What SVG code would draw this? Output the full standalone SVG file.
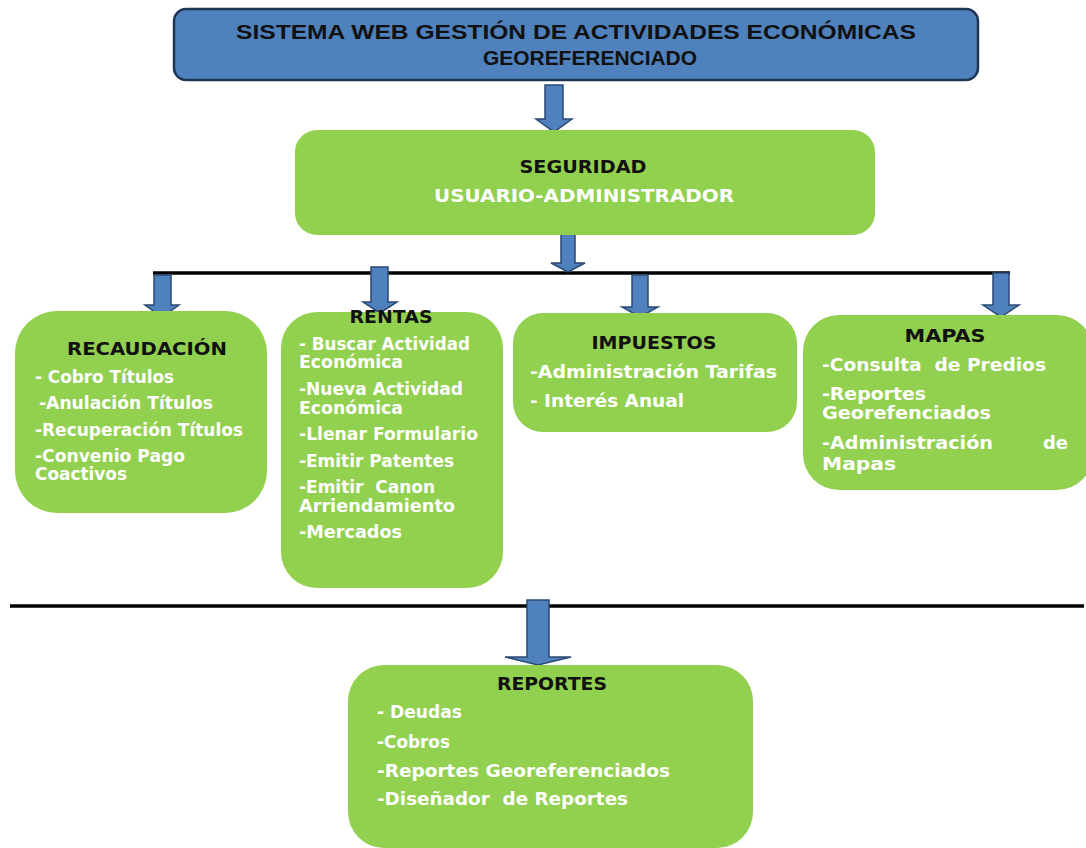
<svg xmlns="http://www.w3.org/2000/svg" width="1086" height="848" viewBox="0 0 1086 848">
<style>
.box{fill:#92D050;}
.top{fill:#4F81BD;stroke:#1F3553;stroke-width:2.5;}
.arr{fill:#4F81BD;stroke:#2A4A72;stroke-width:1.5;}
.line{stroke:#000;stroke-width:3.5;fill:none;}
text{font-family:"DejaVu Sans","Liberation Sans",sans-serif;font-weight:bold;white-space:pre;}
.t{fill:#111;font-size:18px;}
.w{fill:#fff;font-size:17px;}
.h{fill:#111;font-size:21px;font-family:"Liberation Sans",sans-serif;}
</style>
<rect width="1086" height="848" fill="#fff"/>
<g id="connectors">
<line class="line" x1="153" y1="273" x2="1010" y2="273"/>
<line class="line" x1="10" y1="606" x2="1084" y2="606"/>
<path class="arr" d="M545,85 H563 V119 H572 L554,132 L536,119 H545 Z"/>
<path class="arr" d="M561,229 H575 V263 H585 L568,272 L551,263 H561 Z"/>
<path class="arr" d="M154,275 H171 V305 H179 L162,317 L145,305 H154 Z"/>
<path class="arr" d="M371,267 H388 V302 H397 L380,313 L363,302 H371 Z"/>
<path class="arr" d="M632,275 H648 V307 H658 L640,317 L622,307 H632 Z"/>
<path class="arr" d="M993,273 H1009 V305 H1019 L1001,317 L983,305 H993 Z"/>
<path class="arr" d="M527,600 H549 V657 H571 L538,665 L505,657 H527 Z"/>
</g>
<g id="sistema">
<rect class="top" x="174" y="9" width="804" height="71" rx="12"/>
<text class="h" x="576" y="39" text-anchor="middle" textLength="680" lengthAdjust="spacingAndGlyphs">SISTEMA WEB GESTIÓN DE ACTIVIDADES ECONÓMICAS</text>
<text class="h" x="590" y="65" text-anchor="middle" textLength="214" lengthAdjust="spacingAndGlyphs">GEOREFERENCIADO</text>
</g>
<g id="seguridad">
<rect class="box" x="295" y="130" width="580" height="105" rx="22"/>
<text class="t" x="583" y="173" text-anchor="middle" textLength="127" lengthAdjust="spacingAndGlyphs">SEGURIDAD</text>
<text class="w" x="584" y="202" text-anchor="middle" textLength="300" lengthAdjust="spacingAndGlyphs" style="font-size:18px">USUARIO-ADMINISTRADOR</text>
</g>
<g id="recaudacion">
<rect class="box" x="15" y="311" width="252" height="202" rx="42"/>
<text class="t" x="147" y="355" text-anchor="middle" textLength="160" lengthAdjust="spacingAndGlyphs">RECAUDACIÓN</text>
<text class="w" x="35" y="383" textLength="139" lengthAdjust="spacingAndGlyphs">- Cobro Títulos</text>
<text class="w" x="39" y="409" textLength="174" lengthAdjust="spacingAndGlyphs">-Anulación Títulos</text>
<text class="w" x="35" y="436" textLength="208" lengthAdjust="spacingAndGlyphs">-Recuperación Títulos</text>
<text class="w" x="35" y="462" textLength="150" lengthAdjust="spacingAndGlyphs">-Convenio Pago</text>
<text class="w" x="35" y="480" textLength="92" lengthAdjust="spacingAndGlyphs">Coactivos</text>
</g>
<g id="rentas">
<rect class="box" x="281" y="312" width="222" height="276" rx="36"/>
<text class="t" x="391" y="323" text-anchor="middle" textLength="83" lengthAdjust="spacingAndGlyphs">RENTAS</text>
<text class="w" x="299" y="350" textLength="171" lengthAdjust="spacingAndGlyphs">- Buscar Actividad</text>
<text class="w" x="299" y="368" textLength="104" lengthAdjust="spacingAndGlyphs">Económica</text>
<text class="w" x="299" y="395" textLength="164" lengthAdjust="spacingAndGlyphs">-Nueva Actividad</text>
<text class="w" x="299" y="414" textLength="104" lengthAdjust="spacingAndGlyphs">Económica</text>
<text class="w" x="299" y="440" textLength="179" lengthAdjust="spacingAndGlyphs">-Llenar Formulario</text>
<text class="w" x="299" y="467" textLength="155" lengthAdjust="spacingAndGlyphs">-Emitir Patentes</text>
<text class="w" x="299" y="493" textLength="136" lengthAdjust="spacingAndGlyphs">-Emitir  Canon</text>
<text class="w" x="299" y="512" textLength="156" lengthAdjust="spacingAndGlyphs">Arriendamiento</text>
<text class="w" x="299" y="538" textLength="103" lengthAdjust="spacingAndGlyphs">-Mercados</text>
</g>
<g id="impuestos">
<rect class="box" x="513" y="313" width="284" height="119" rx="30"/>
<text class="t" x="654" y="349" text-anchor="middle" textLength="125" lengthAdjust="spacingAndGlyphs">IMPUESTOS</text>
<text class="w" x="530" y="378" textLength="247" lengthAdjust="spacingAndGlyphs">-Administración Tarifas</text>
<text class="w" x="530" y="407" textLength="154" lengthAdjust="spacingAndGlyphs">- Interés Anual</text>
</g>
<g id="mapas">
<rect class="box" x="803" y="315" width="290" height="175" rx="36"/>
<text class="t" x="945" y="342" text-anchor="middle" textLength="81" lengthAdjust="spacingAndGlyphs">MAPAS</text>
<text class="w" x="822" y="371" textLength="224" lengthAdjust="spacingAndGlyphs">-Consulta  de Predios</text>
<text class="w" x="822" y="400" textLength="104" lengthAdjust="spacingAndGlyphs">-Reportes</text>
<text class="w" x="822" y="419" textLength="169" lengthAdjust="spacingAndGlyphs">Georefenciados</text>
<text class="w" x="822" y="449" textLength="171" lengthAdjust="spacingAndGlyphs">-Administración</text>
<text class="w" x="1043" y="449" textLength="25" lengthAdjust="spacingAndGlyphs">de</text>
<text class="w" x="822" y="470" textLength="74" lengthAdjust="spacingAndGlyphs">Mapas</text>
</g>
<g id="reportes">
<rect class="box" x="348" y="665" width="405" height="183" rx="36"/>
<text class="t" x="552" y="690" text-anchor="middle" textLength="110" lengthAdjust="spacingAndGlyphs">REPORTES</text>
<text class="w" x="377" y="718" textLength="85" lengthAdjust="spacingAndGlyphs">- Deudas</text>
<text class="w" x="377" y="748" textLength="73" lengthAdjust="spacingAndGlyphs">-Cobros</text>
<text class="w" x="377" y="777" textLength="293" lengthAdjust="spacingAndGlyphs">-Reportes Georeferenciados</text>
<text class="w" x="377" y="805" textLength="251" lengthAdjust="spacingAndGlyphs">-Diseñador  de Reportes</text>
</g>
</svg>
